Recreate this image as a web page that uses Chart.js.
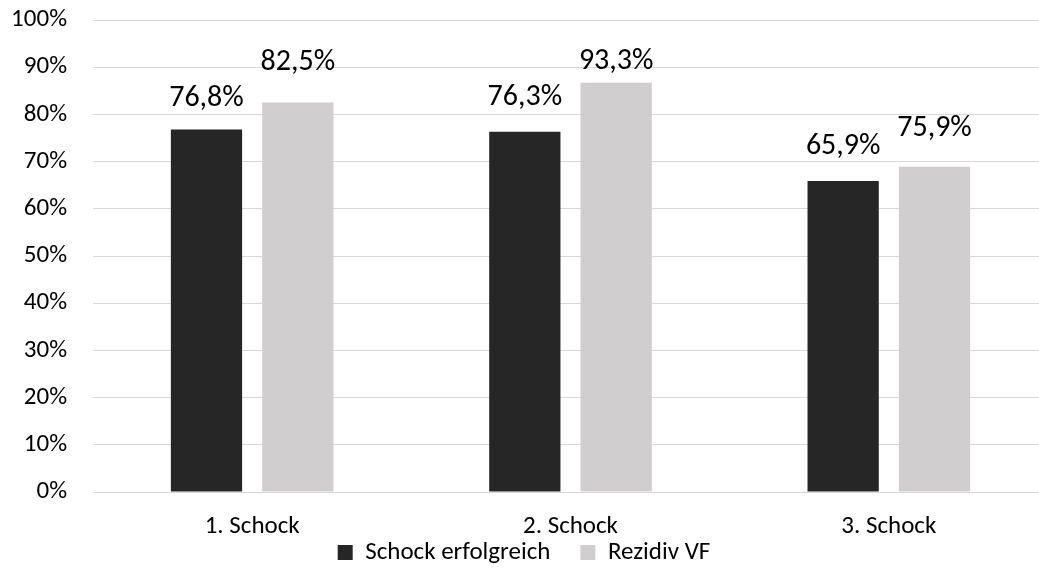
<!DOCTYPE html>
<html>
<head>
<meta charset="utf-8">
<script src="https://cdn.jsdelivr.net/npm/chart.js@4.4.1/dist/chart.umd.min.js"></script>
<style>
    html, body { margin: 0; padding: 0; background: #fff; overflow: hidden; }
    #wrap { width: 1048px; height: 583px; position: relative; }
</style>
</head>
<body>
<div id="wrap"><canvas id="chart"></canvas></div>
<script>
'use strict';

// data
const categories = ['1. Schock', '2. Schock', '3. Schock'];
const seriesNames = ['Schock erfolgreich', 'Rezidiv VF'];
const erfolgreich = [76.8, 76.3, 65.9];
const rezidiv = [82.5, 86.7, 68.9];
const erfolgreichLabels = ['76,8%', '76,3%', '65,9%'];
const rezidivLabels = ['82,5%', '93,3%', '75,9%'];
const yTicks = [0, 10, 20, 30, 40, 50, 60, 70, 80, 90, 100];

const FONT = 'Carlito, Calibri, Lato, sans-serif';

// how far above the bar top each label sits (px), as in the original
const labelLift = [[31, 40], [34, 21], [34, 38]];

// draw value labels over the bars
const barLabels = {
    id: 'barLabels',
    afterDatasetsDraw(chart) {
        const ctx = chart.ctx;
        const texts = [erfolgreichLabels, rezidivLabels];
        ctx.save();
        ctx.fillStyle = '#000';
        ctx.font = '30px ' + FONT;
        ctx.textAlign = 'center';
        ctx.textBaseline = 'middle';
        chart.data.datasets.forEach((ds, di) => {
            chart.getDatasetMeta(di).data.forEach((bar, i) => {
                ctx.fillText(texts[di][i], bar.x, bar.y - labelLift[i][di]);
            });
        });
        ctx.restore();
    }
};

// legend padding is used both ways; keep the wide gap between items
// but pull the legend closer to the axis labels
const legendTweak = {
    id: 'legendTweak',
    beforeLayout(chart) {
        const lg = chart.legend;
        if (lg && !lg._tweaked) {
            const fit = lg.fit;
            lg.fit = function () {
                fit.call(this);
                this.height = 41;
            };
            lg._tweaked = true;
        }
    },
    afterLayout(chart) {
        chart.legend.top -= 32;
    }
};

new Chart(document.querySelector('canvas#chart'), {
    type: 'bar',
    data: {
        labels: categories,
        datasets: [{
            label: seriesNames[0],
            data: erfolgreich,
            backgroundColor: '#262626',
            borderWidth: 0
        }, {
            label: seriesNames[1],
            data: rezidiv,
            backgroundColor: '#d0cece',
            borderWidth: 0
        }]
    },
    options: {
        responsive: true,
        maintainAspectRatio: false,
        animation: false,
        categoryPercentage: 0.574,
        barPercentage: 0.78,
        layout: {
            padding: { left: 0, right: 0, top: 20, bottom: 0 }
        },
        scales: {
            x: {
                afterFit: (scale) => { scale.height = 50; },
                grid: { display: false, drawTicks: false },
                border: { display: false },
                ticks: {
                    color: '#000',
                    font: { family: FONT, size: 25 },
                    padding: 20
                }
            },
            y: {
                min: 0,
                max: 100,
                afterFit: (scale) => {
                    scale.width = 93;
                    scale.paddingTop = 0;
                    scale.paddingBottom = 0;
                },
                afterBuildTicks: (scale) => {
                    scale.ticks = yTicks.map(v => ({ value: v }));
                },
                grid: {
                    color: '#d9d9d9',
                    lineWidth: 1,
                    drawTicks: false
                },
                border: { display: false },
                ticks: {
                    color: '#000',
                    font: { family: FONT, size: 25 },
                    padding: 26,
                    callback: (v) => v + '%'
                }
            }
        },
        plugins: {
            legend: {
                position: 'bottom',
                labels: {
                    color: '#000',
                    font: { family: FONT, size: 25 },
                    boxWidth: 15,
                    boxHeight: 15,
                    padding: 30
                }
            },
            tooltip: { enabled: false }
        }
    },
    plugins: [barLabels, legendTweak]
});
</script>
</body>
</html>
